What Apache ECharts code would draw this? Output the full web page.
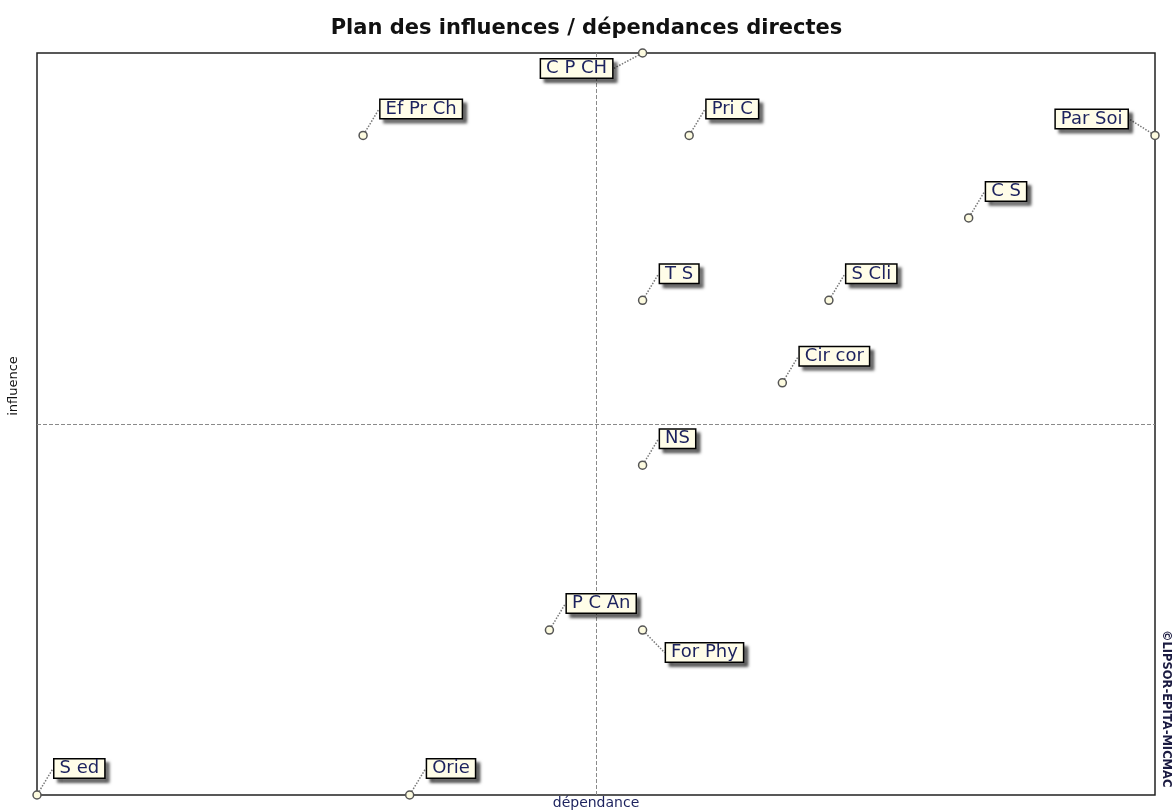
<!DOCTYPE html>
<html>
<head>
<meta charset="utf-8">
<script src="https://cdn.jsdelivr.net/npm/echarts@6/dist/echarts.min.js"></script>
<style>html,body{margin:0;padding:0;background:#fff;}#c{width:1173px;height:811px;}</style>
</head>
<body>
<div id="c"></div>
<script>
// ---- data ----
const names = ['C P CH','Ef Pr Ch','Pri C','Par Soi','C S','T S','S Cli','Cir cor','NS','P C An','For Phy','S ed','Orie'];
const dependance = [13, 7, 14, 24, 20, 13, 17, 16, 13, 11, 13, 0, 8];
const influence  = [9, 8, 8, 8, 7, 6, 6, 5, 4, 2, 2, 0, 0];
const xRange = [0, 24];
const yRange = [0, 9];

// ---- label placement (styling, not data) ----
// which side of the point each label box sits on
const labelSide = ['dl','ur','ur','ul','ur','ur','ur','ur','ur','ur','dr','ur','ur'];

const chart = echarts.init(document.getElementById('c'), null, {renderer:'canvas'});
const pts = names.map((n,i)=>({name:n, value:[dependance[i], influence[i]]}));
const navy = '#1c225e';
const FONT = 'DejaVu Sans';
const crossStyle = {show:true, showMinLine:false, showMaxLine:false,
  lineStyle:{type:'dashed', color:'#8a8a8a', width:1}};

chart.setOption({
  backgroundColor:'#fff',
  animation:false,
  title:{
    text:'Plan des influences / dépendances directes',
    left:'center', top:13,
    textStyle:{fontFamily:FONT, fontSize:21, fontWeight:'bold', color:'#111'}
  },
  grid:{left:37, right:18, top:53, bottom:16, show:true, borderColor:'#222', borderWidth:1.5,
        backgroundColor:'transparent', outerBoundsMode:'none', containLabel:false},
  xAxis:{
    type:'value', min:xRange[0], max:xRange[1], interval:(xRange[1]-xRange[0])/2,
    name:'dépendance', nameLocation:'middle', nameGap:1,
    nameTextStyle:{fontFamily:FONT, fontSize:14, color:navy, verticalAlign:'top', lineHeight:14},
    axisLine:{show:false}, axisTick:{show:false}, axisLabel:{show:false}, splitLine:crossStyle
  },
  yAxis:{
    type:'value', min:yRange[0], max:yRange[1], interval:(yRange[1]-yRange[0])/2,
    axisLine:{show:false}, axisTick:{show:false}, axisLabel:{show:false}, splitLine:crossStyle
  },
  graphic:[
    {type:'text', x:7, y:386, rotation:Math.PI/2,
      style:{text:'influence', font:'13px "DejaVu Sans"', fill:'#111', textAlign:'center', textVerticalAlign:'top'}},
    {type:'text', x:1160, y:630, rotation:-Math.PI/2,
      style:{text:'©LIPSOR-EPITA-MICMAC', font:'bold 11.5px "DejaVu Sans"', fill:'#1a1a40', textAlign:'left', textVerticalAlign:'bottom'}}
  ],
  series:[{
    type:'scatter',
    data:pts,
    symbol:'circle', symbolSize:8,
    itemStyle:{color:'#fdfbe0', borderColor:'#555', borderWidth:1.5, opacity:1},
    label:{
      show:true, position:'inside',
      formatter:p=>p.name,
      fontFamily:FONT, fontSize:18, color:navy,
      backgroundColor:'#fffde8', borderColor:'#000', borderWidth:1.5,
      padding:[0,5,0,5],
      shadowColor:'rgba(0,0,0,0.55)', shadowOffsetX:4, shadowOffsetY:4, shadowBlur:3
    },
    labelLine:{show:true, lineStyle:{type:'dotted', color:'#777', width:1.5}},
    labelLayout:function(p){
      const r=p.rect, lr=p.labelRect;
      const cx=r.x+r.width/2, cy=r.y+r.height/2;
      const s=labelSide[p.dataIndex];
      let left, top;
      if(s==='ur'){ left=cx+16; top=cy-16-lr.height; }
      else if(s==='ul'){ left=cx-26-lr.width; top=cy-6-lr.height; }
      else if(s==='dl'){ left=cx-29-lr.width; top=cy+5; }
      else { left=cx+22; top=cy+12; }
      return {dx:left-lr.x, dy:top-lr.y};
    },
    z:5
  }]
});
</script>
</body>
</html>
